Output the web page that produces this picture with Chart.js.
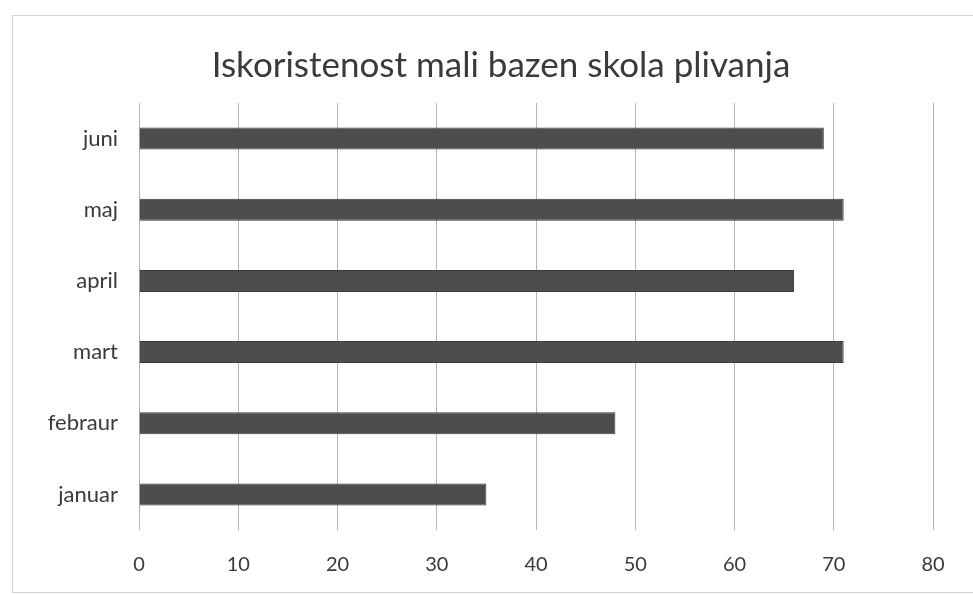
<!DOCTYPE html>
<html>
<head>
<meta charset="utf-8">
<script src="https://cdn.jsdelivr.net/npm/chart.js@4.4.1/dist/chart.umd.min.js"></script>
<style>
  html, body { margin: 0; padding: 0; background: #fff; }
  #wrap { position: relative; width: 973px; height: 594px; }
  #frame { position: absolute; left: 12px; top: 15px; width: 980px; height: 576px; border: 1px solid #d4d4d4; }
  canvas { position: absolute; left: 0; top: 0; }
</style>
</head>
<body>
<div id="wrap">
  <div id="frame"></div>
  <canvas id="chart" width="973" height="594"></canvas>
</div>
<script>
// Months listed top to bottom as in the picture (spelling kept as printed)
const months = ['juni', 'maj', 'april', 'mart', 'febraur', 'januar'];
const usage = [69, 71, 66, 71, 48, 35];
const xTicks = [0, 10, 20, 30, 40, 50, 60, 70, 80];

const fontFamily = 'Lato, "Open Sans", sans-serif';

const chart = new Chart(document.getElementById('chart').getContext('2d'), {
    type: 'bar',
    data: {
        labels: months,
        datasets: [{
            label: 'Iskoristenost',
            data: usage,
            backgroundColor: '#4d4d4d',
            borderColor: '#3a3a3a',
            borderWidth: 1,
            barPercentage: 0.31,
            categoryPercentage: 1
        }]
    },
    options: {
        indexAxis: 'y',
        responsive: false,
        animation: false,
        layout: { padding: { left: 29, right: 0, top: 0, bottom: 0 } },
        plugins: {
            legend: { display: false },
            tooltip: { enabled: false },
            title: {
                display: true,
                text: 'Iskoristenost mali bazen skola plivanja',
                color: '#3a3a3a',
                font: { family: fontFamily, size: 35, weight: 'normal', lineHeight: 1.2 },
                padding: { top: 45, bottom: 16 }
            }
        },
        scales: {
            x: {
                min: 0,
                max: 80,
                afterBuildTicks: axis => { axis.ticks = xTicks.map(v => ({ value: v })); },
                afterFit: axis => { axis.height = 64; },
                border: { display: false },
                grid: { color: '#b5b5b5', lineWidth: 1, drawTicks: false },
                ticks: { color: '#3a3a3a', font: { family: fontFamily, size: 20 }, padding: 23 }
            },
            y: {
                afterFit: axis => { axis.width = 110; },
                border: { display: false },
                grid: { display: false, drawTicks: false },
                ticks: { color: '#3a3a3a', font: { family: fontFamily, size: 22 }, padding: 21 }
            },
            // empty spacer on the right so the plot ends where the picture's does
            yRight: {
                type: 'category',
                axis: 'y',
                position: 'right',
                labels: months,
                afterFit: axis => { axis.width = 40; },
                border: { display: false },
                grid: { display: false, drawTicks: false },
                ticks: { display: false }
            }
        }
    }
});
</script>
</body>
</html>
